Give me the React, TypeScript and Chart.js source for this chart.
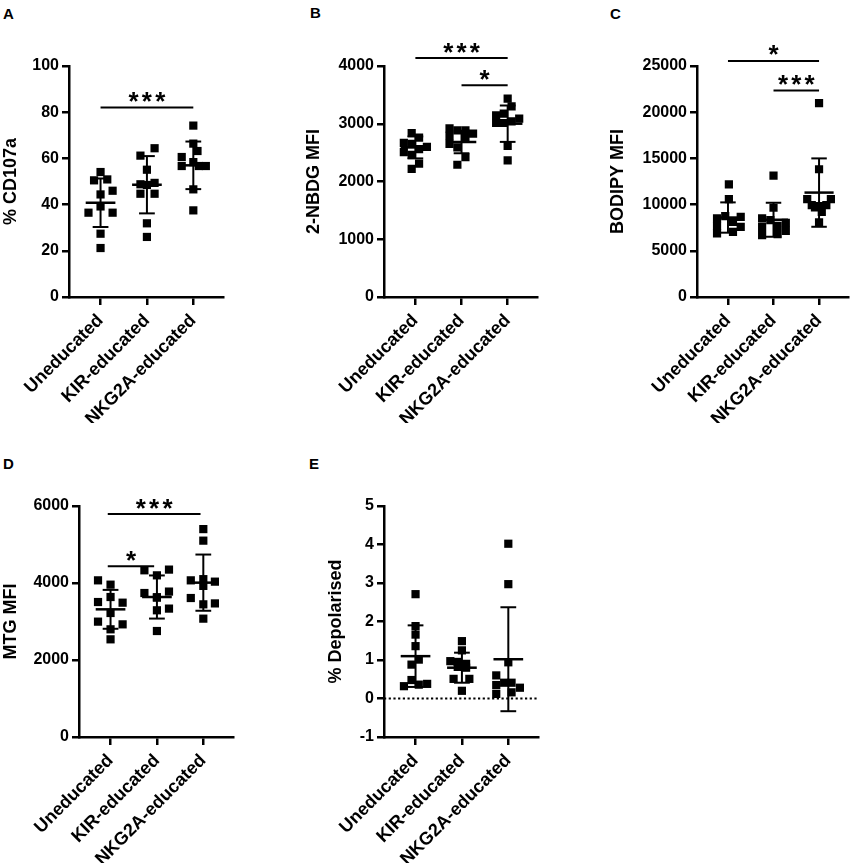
import { useEffect, useRef } from "react";
import Chart from "chart.js/auto";

const FONT = "'Liberation Sans', Arial, sans-serif";
const INK = "#000";

const GROUPS = ["Uneducated", "KIR-educated", "NKG2A-educated"];

type Sig = { from: number; to: number; at: number; stars: number };

// A - % CD107a
const CD_UNED = [54.1, 50.5, 50.9, 44.4, 46.0, 36.5, 39.2, 36.5, 27.4, 21.2];
const CD_KIR = [64.4, 61.2, 55.1, 48.8, 49.4, 48.5, 44.7, 44.7, 31.9, 26.0];
const CD_NKG = [74.2, 66.4, 63.2, 60.6, 58.4, 56.7, 56.7, 56.7, 46.6, 37.5];
const CD_DX = [
  [0, -0.14, 0.145, 0, 0.26, -0.26, 0, 0.26, 0, 0],
  [0.165, -0.14, 0, -0.14, 0.165, 0, -0.14, 0.165, 0, 0],
  [0, 0, 0.09, -0.25, 0, -0.25, 0.12, 0.27, 0, 0],
];
const CD_MEAN = [40.8, 48.6, 57.0];
const CD_SD = [10.5, 12.4, 10.3];
const CD_SIG: Sig[] = [{ from: 0, to: 2, at: 82, stars: 3 }];

// B - 2-NBDG MFI
const NBDG_UNED = [2840, 2760, 2670, 2650, 2600, 2560, 2510, 2460, 2310, 2220];
const NBDG_KIR = [2920, 2885, 2885, 2828, 2790, 2760, 2650, 2590, 2420, 2290];
const NBDG_NKG = [3434, 3302, 3175, 3146, 3088, 3013, 3013, 3040, 2615, 2367];
const NBDG_DX = [
  [-0.08, 0.08, -0.25, -0.08, 0.25, 0.08, -0.25, -0.08, 0.08, -0.08],
  [-0.26, -0.09, 0.085, 0.25, -0.26, 0.085, -0.26, -0.09, 0.085, -0.09],
  [0, 0.085, -0.085, -0.25, 0.25, -0.25, -0.085, 0.085, 0, 0],
];
const NBDG_MEAN = [2590, 2684, 3001];
const NBDG_SD = [190, 195, 315];
const NBDG_SIG: Sig[] = [
  { from: 0, to: 2, at: 4138, stars: 3 },
  { from: 1, to: 2, at: 3665, stars: 1 },
];

// C - BODIPY MFI
const BOD_UNED = [12196, 10601, 8507, 8757, 8138, 8681, 7704, 7595, 6879, 7053];
const BOD_KIR = [13130, 9657, 8507, 8322, 8030, 7595, 7704, 7161, 6695, 6803];
const BOD_NKG = [20985, 13824, 10601, 10601, 9950, 9842, 9950, 9700, 9223, 8073];
const BOD_DX = [
  [0.02, 0.02, -0.24, -0.06, 0.11, 0.28, -0.24, 0.28, -0.24, 0.11],
  [0, 0, -0.25, -0.07, 0.27, -0.25, 0.09, 0.27, -0.25, 0.09],
  [0, 0, -0.26, 0.26, -0.16, 0, 0.16, -0.09, 0.06, 0],
];
const BOD_MEAN = [8600, 8360, 11300];
const BOD_SD = [1640, 1840, 3700];
const BOD_SIG: Sig[] = [
  { from: 0, to: 2, at: 25543, stars: 1 },
  { from: 1, to: 2, at: 22359, stars: 3 },
];

// D - MTG MFI
const MTG_UNED = [4069, 3957, 3636, 3506, 3489, 3221, 2996, 2926, 2797, 2537];
const MTG_KIR = [4330, 4199, 4348, 3740, 3621, 3777, 3291, 3335, 2753, 3630];
const MTG_NKG = [5400, 5100, 4069, 4100, 4035, 3925, 3610, 3470, 3446, 3074];
const MTG_DX = [
  [-0.27, 0, 0, -0.27, 0.26, 0, -0.27, 0.26, 0, 0],
  [-0.27, 0, 0.26, -0.27, 0, 0.26, 0, 0.26, 0, 0],
  [0, 0, -0.27, 0, 0.25, 0, -0.27, 0.25, 0, 0],
];
const MTG_MEAN = [3316, 3636, 4009];
const MTG_SD = [505, 560, 730];
const MTG_SIG: Sig[] = [
  { from: -0.06, to: 1.94, at: 5792, stars: 3 },
  { from: -0.06, to: 0.94, at: 4433, stars: 1 },
];

// E - % Depolarised
const DEP_UNED = [2.71, 1.88, 1.66, 1.36, 1.01, 0.88, 0.48, 0.32, 0.36, 0.38];
const DEP_KIR = [1.49, 1.25, 0.97, 0.95, 0.9, 0.82, 0.8, 0.51, 0.51, 0.2];
const DEP_NKG = [4.02, 2.97, 0.94, 0.6, 0.35, 0.41, 0.41, 0.28, 0.12, 0.16];
const DEP_DX = [
  [0, 0, 0, 0, 0.07, -0.087, -0.087, -0.25, 0.07, 0.25],
  [0, 0, -0.25, -0.09, 0.09, -0.09, 0.09, -0.18, 0.16, 0],
  [0, 0, 0, -0.26, -0.26, -0.09, 0.07, 0.25, -0.26, 0.07],
];
const DEP_MEAN = [1.1, 0.8, 1.02];
const DEP_SD = [0.8, 0.39, 1.35];

type PanelDef = {
  letter: string;
  letterAt: [number, number];
  title: string;
  left: number;
  top: number;
  width: number;
  axisW: number;
  min: number;
  max: number;
  step: number;
  groups: number[][];
  dx: number[][];
  mean: number[];
  sd: number[];
  sig: Sig[];
  zero?: boolean;
};

const PANELS: PanelDef[] = [
  { letter: "A", letterAt: [3, 6], title: "% CD107a", left: 0, top: 0, width: 229, axisW: 69, min: 0, max: 100, step: 20,
    groups: [CD_UNED, CD_KIR, CD_NKG], dx: CD_DX, mean: CD_MEAN, sd: CD_SD, sig: CD_SIG },
  { letter: "B", letterAt: [310, 5], title: "2-NBDG MFI", left: 303, top: 0, width: 240, axisW: 81, min: 0, max: 4000, step: 1000,
    groups: [NBDG_UNED, NBDG_KIR, NBDG_NKG], dx: NBDG_DX, mean: NBDG_MEAN, sd: NBDG_SD, sig: NBDG_SIG },
  { letter: "C", letterAt: [610, 6], title: "BODIPY MFI", left: 607, top: 0, width: 247, axisW: 90, min: 0, max: 25000, step: 5000,
    groups: [BOD_UNED, BOD_KIR, BOD_NKG], dx: BOD_DX, mean: BOD_MEAN, sd: BOD_SD, sig: BOD_SIG },
  { letter: "D", letterAt: [3, 456], title: "MTG MFI", left: 0, top: 440, width: 239, axisW: 79, min: 0, max: 6000, step: 2000,
    groups: [MTG_UNED, MTG_KIR, MTG_NKG], dx: MTG_DX, mean: MTG_MEAN, sd: MTG_SD, sig: MTG_SIG },
  { letter: "E", letterAt: [309, 456], title: "% Depolarised", left: 325, top: 440, width: 219, axisW: 59, min: -1, max: 5, step: 1,
    groups: [DEP_UNED, DEP_KIR, DEP_NKG], dx: DEP_DX, mean: DEP_MEAN, sd: DEP_SD, sig: [], zero: true },
];

const PAD_TOP = 66;
const X_AXIS_H = 126;
const HEIGHT = PAD_TOP + 231 + X_AXIS_H;

// means, SD bars, significance brackets and the dotted zero line
const dotPlot = {
  id: "dotPlot",
  afterDatasetsDraw(chart: any, _args: unknown, opts: any) {
    const { ctx, chartArea } = chart;
    const x = chart.scales.x;
    const y = chart.scales.y;
    const line = (x1: number, y1: number, x2: number, y2: number, w: number) => {
      ctx.lineWidth = w;
      ctx.beginPath();
      ctx.moveTo(x1, y1);
      ctx.lineTo(x2, y2);
      ctx.stroke();
    };
    ctx.save();
    ctx.strokeStyle = INK;
    ctx.fillStyle = INK;
    if (opts.zero) {
      const y0 = y.getPixelForValue(0);
      ctx.setLineDash([2.2, 2.5]);
      line(chartArea.left, y0, chartArea.right, y0, 2.2);
      ctx.setLineDash([]);
    }
    opts.mean.forEach((m: number, g: number) => {
      const cx = x.getPixelForValue(g);
      const ym = y.getPixelForValue(m);
      const yt = y.getPixelForValue(m + opts.sd[g]);
      const yb = y.getPixelForValue(m - opts.sd[g]);
      line(x.getPixelForValue(g - 0.32), ym, x.getPixelForValue(g + 0.32), ym, 2.5);
      line(cx, yt, cx, yb, 2);
      for (const yy of [yt, yb]) line(x.getPixelForValue(g - 0.17), yy, x.getPixelForValue(g + 0.17), yy, 2);
    });
    ctx.font = `bold 26px ${FONT}`;
    ctx.textAlign = "center";
    ctx.textBaseline = "alphabetic";
    const mt = ctx.measureText("*");
    const half = (mt.actualBoundingBoxAscent - mt.actualBoundingBoxDescent) / 2;
    opts.sig.forEach((s: Sig) => {
      const x1 = x.getPixelForValue(s.from);
      const x2 = x.getPixelForValue(s.to);
      const yy = y.getPixelForValue(s.at);
      line(x1, yy, x2, yy, 2);
      const mid = (x1 + x2) / 2;
      for (let i = 0; i < s.stars; i++) {
        ctx.fillText("*", mid + (i - (s.stars - 1) / 2) * 13.3, yy - 10.5 + half);
      }
    });
    ctx.restore();
  },
};

function Panel({ def }: { def: PanelDef }) {
  const ref = useRef<HTMLCanvasElement>(null);
  useEffect(() => {
    if (!ref.current) return;
    const points = def.groups.flatMap((vals, g) => vals.map((v, i) => ({ x: g + def.dx[g][i], y: v })));
    const axisGrid = (len: number) => ({ drawOnChartArea: false, drawTicks: true, tickLength: len, color: INK, lineWidth: 2.5 });
    const chart = new Chart(ref.current, {
      type: "scatter",
      data: {
        datasets: [
          { data: points, pointStyle: "rect", pointRadius: 5.8, pointHoverRadius: 5.8, backgroundColor: INK, borderWidth: 0 },
        ],
      },
      options: {
        animation: false,
        responsive: true,
        maintainAspectRatio: false,
        layout: { padding: { top: PAD_TOP, right: def.width - def.axisW - 154, left: 0, bottom: 0 } },
        plugins: {
          legend: { display: false },
          tooltip: { enabled: false },
          dotPlot: { mean: def.mean, sd: def.sd, sig: def.sig, zero: !!def.zero },
        } as any,
        scales: {
          x: {
            type: "linear",
            min: -0.68,
            max: 2.64,
            afterBuildTicks: (s: any) => { s.ticks = [0, 1, 2].map((value) => ({ value })); },
            afterFit: (s: any) => { s.height = X_AXIS_H; },
            grid: axisGrid(8),
            border: { color: INK, width: 2.5 },
            ticks: {
              autoSkip: false,
              minRotation: 45,
              maxRotation: 45,
              padding: 5,
              color: INK,
              font: { family: FONT, size: 18, weight: "bold" },
              callback: (v: any) => GROUPS[v as number] ?? "",
            },
          },
          y: {
            min: def.min,
            max: def.max,
            afterFit: (s: any) => { s.width = def.axisW; },
            grid: axisGrid(7),
            border: { color: INK, width: 2.5 },
            ticks: {
              stepSize: def.step,
              padding: 3,
              color: INK,
              font: { family: FONT, size: 16, weight: "bold" },
              callback: (v: any) => String(v),
            },
            title: { display: true, text: def.title, color: INK, padding: 0, font: { family: FONT, size: 18, weight: "bold" } },
          },
        },
      },
      plugins: [dotPlot as any],
    });
    return () => chart.destroy();
  }, [def]);
  return (
    <div style={{ position: "absolute", left: def.left, top: def.top, width: def.width, height: HEIGHT }}>
      <canvas ref={ref} />
    </div>
  );
}

export default function App() {
  return (
    <div style={{ position: "absolute", left: 0, top: 0, width: 854, height: 864, background: "#fff", overflow: "hidden" }}>
      {PANELS.map((p) => (
        <div
          key={p.letter + "l"}
          style={{ position: "absolute", left: p.letterAt[0], top: p.letterAt[1], font: `bold 15px ${FONT}`, lineHeight: "15px", color: INK }}
        >
          {p.letter}
        </div>
      ))}
      {PANELS.map((p) => (
        <Panel key={p.letter} def={p} />
      ))}
    </div>
  );
}
